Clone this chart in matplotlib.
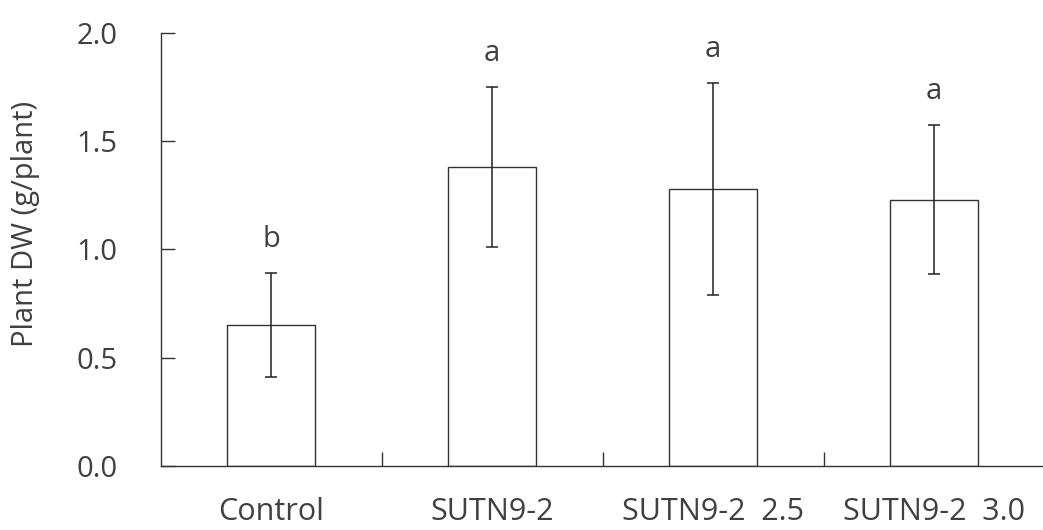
#plant dry weight per plant, control vs SUTN9-2 treatments
#bar chart with SD error bars and letters from mean comparison

import numpy as np
import matplotlib.pyplot as plt

treatments = ['Control', 'SUTN9-2', 'SUTN9-2  2.5', 'SUTN9-2  3.0']
plant_dw = [0.65, 1.38, 1.28, 1.23]
plant_dw_sd = [0.24, 0.37, 0.49, 0.345]
letters = ['b', 'a', 'a', 'a']

plt.rcParams['font.family'] = ['Open Sans', 'DejaVu Sans']
text_color = '#404040'
line_color = '#333333'

fig = plt.figure(figsize=(10.43, 5.30), dpi=100)
ax = fig.add_axes([0.1541, 0.1208, 0.8475, 0.8169])

x = np.arange(len(treatments)) + 0.5

ax.bar(x, plant_dw, width=0.40, color='white', edgecolor=line_color, linewidth=1.0, zorder=2)
ax.errorbar(x, plant_dw, yerr=plant_dw_sd, fmt='none', ecolor='#222222', elinewidth=1.1,
            capsize=4.2, capthick=1.1, zorder=3)

#letters above the error bars
for xi, m, sd, lab in zip(x, plant_dw, plant_dw_sd, letters):
    ax.text(xi, m + sd + 0.12, lab, ha='center', va='baseline', fontsize=21, color=text_color)

ax.set_xlim(0, len(treatments))
ax.set_ylim(0, 2.0)

#ticks between categories, labels at the centres
ax.set_xticks(np.arange(1, len(treatments)))
ax.set_xticklabels([])
ax.set_xticks(x, minor=True)
ax.set_xticklabels(treatments, minor=True)
ax.tick_params(axis='x', which='major', direction='in', length=10, width=1.0, color=line_color)
ax.tick_params(axis='x', which='minor', length=0, pad=22, labelsize=22, labelcolor=text_color)

ax.set_yticks([0.0, 0.5, 1.0, 1.5, 2.0])
ax.set_yticklabels(['0.0', '0.5', '1.0', '1.5', '2.0'])
ax.tick_params(axis='y', direction='in', length=10, width=1.0, color=line_color,
               pad=31, labelsize=21, labelcolor=text_color)

ax.spines['top'].set_visible(False)
ax.spines['right'].set_visible(False)
for s in ['left', 'bottom']:
    ax.spines[s].set_color(line_color)
    ax.spines[s].set_linewidth(1.0)

ax.set_ylabel('Plant DW (g/plant)', fontsize=21, color=text_color)
ax.yaxis.set_label_coords(-0.137, 0.559)

plt.savefig('out.png', dpi=100)
